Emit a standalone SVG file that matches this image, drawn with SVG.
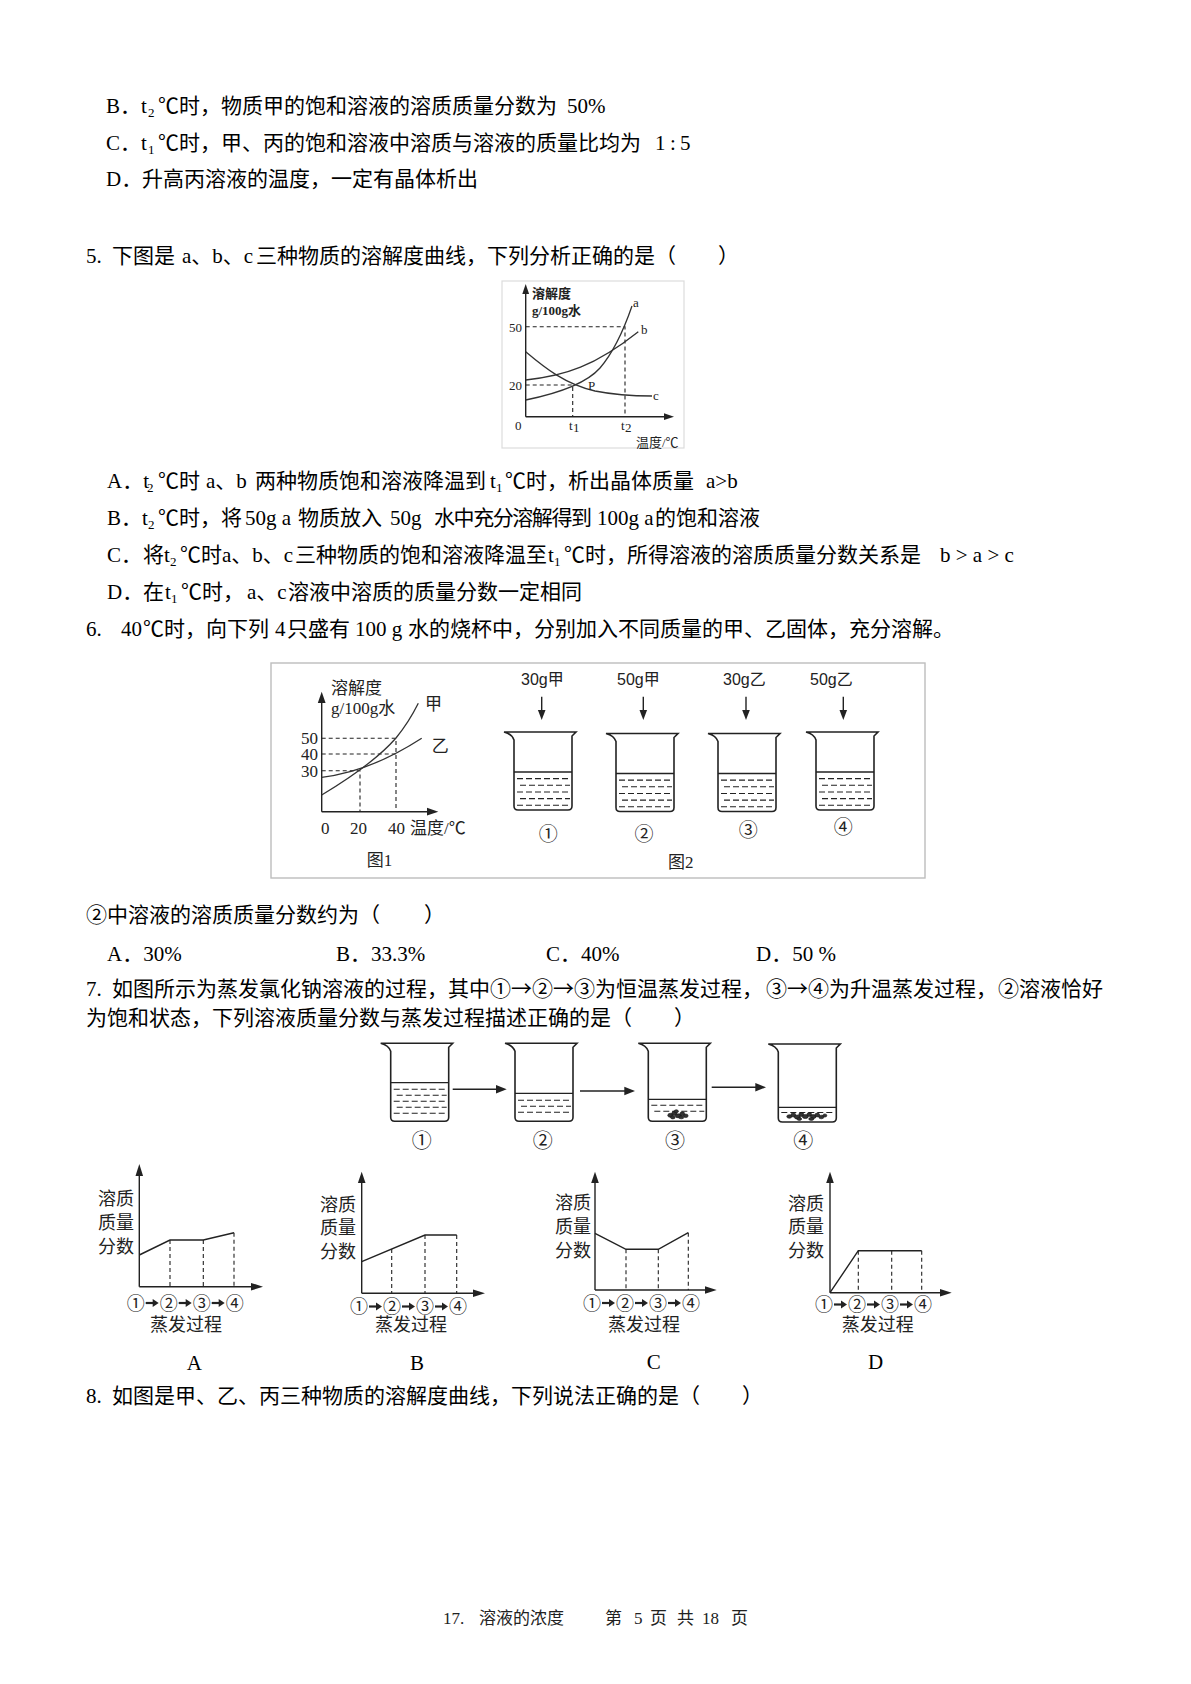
<svg xmlns="http://www.w3.org/2000/svg" xmlns:xlink="http://www.w3.org/1999/xlink" width="1191" height="1684" viewBox="0 0 1191 1684">
<style>
.t{font-family:'Liberation Serif','Noto Sans CJK SC',serif;font-size:21px;fill:#000}
.s{font-family:'Liberation Serif',serif;font-size:13px;fill:#000}
.cj{font-family:'Noto Sans CJK SC',sans-serif}
.ft{font-family:'Liberation Serif','Noto Sans CJK SC',serif;font-size:17px;fill:#222}
.ax{stroke:#222;stroke-width:1.4;fill:none}
.dash{stroke:#222;stroke-width:1.1;stroke-dasharray:4 3;fill:none}
.crv{stroke:#333;stroke-width:1.3;fill:none}
.ah{fill:#222}
.g5{font-family:'Liberation Serif','Noto Sans CJK SC',serif;font-size:13px;fill:#222}
.g6{font-family:'Liberation Serif','Noto Sans CJK SC',serif;font-size:17px;fill:#222}
.sn{font-family:'Liberation Sans','Noto Sans CJK SC',sans-serif;fill:#222}
.lab{font-family:'Noto Sans CJK SC',sans-serif;font-size:18px;fill:#222}
.liq{stroke:#222;stroke-width:1.3}
.lqd{stroke:#222;stroke-width:1.1;stroke-dasharray:6 3}
.frame{fill:none;stroke:#bdbdbd;stroke-width:1.4}
</style>
<defs>
<path id="bk" d="M10,74 L10,8 Q8,2 0,0 L72,0 L68,4 L68,74 Q68,78 64,78 L14,78 Q10,78 10,74 Z" fill="none" stroke="#222" stroke-width="1.6"/>
<g id="seq">
<text x="0" y="0" class="cj" font-size="18" fill="#222">①</text>
<line x1="19" y1="-6.5" x2="27" y2="-6.5" stroke="#222" stroke-width="2.2"/>
<polygon points="32,-6.5 26,-10.5 26,-2.5" class="ah"/>
<text x="33" y="0" class="cj" font-size="18" fill="#222">②</text>
<line x1="52" y1="-6.5" x2="60" y2="-6.5" stroke="#222" stroke-width="2.2"/>
<polygon points="65,-6.5 59,-10.5 59,-2.5" class="ah"/>
<text x="66" y="0" class="cj" font-size="18" fill="#222">③</text>
<line x1="85" y1="-6.5" x2="93" y2="-6.5" stroke="#222" stroke-width="2.2"/>
<polygon points="98,-6.5 92,-10.5 92,-2.5" class="ah"/>
<text x="99" y="0" class="cj" font-size="18" fill="#222">④</text>
</g>
</defs>
<rect width="1191" height="1684" fill="#fff"/>

<g id="text-top">
<text class="t" y="113"><tspan x="106">B．t</tspan><tspan x="158">℃时，物质甲的饱和溶液的溶质质量分数为</tspan><tspan x="567">50%</tspan></text>
<text class="s" x="148" y="117">2</text>
<text class="t" y="150"><tspan x="106">C．t</tspan><tspan x="158">℃时，甲、丙的饱和溶液中溶质与溶液的质量比均为</tspan><tspan x="655">1</tspan><tspan x="670">:</tspan><tspan x="680">5</tspan></text>
<text class="s" x="148" y="154">1</text>
<text class="t" y="186"><tspan x="106">D．</tspan><tspan x="142">升高丙溶液的温度，一定有晶体析出</tspan></text>
<text class="t" y="263"><tspan x="86">5.</tspan><tspan x="112">下图是</tspan><tspan x="182">a、b、c</tspan><tspan x="256">三种物质的溶解度曲线，下列分析正确的是（</tspan><tspan x="718">）</tspan></text>
</g>

<g id="fig5">
<rect x="502" y="281" width="182" height="167" fill="none" stroke="#dcdcdc" stroke-width="1.2"/>
<line x1="525.7" y1="416.7" x2="525.7" y2="292" class="ax"/>
<polygon points="525.7,284 522.3,294 529.1,294" class="ah"/>
<line x1="525.7" y1="416.7" x2="665" y2="416.7" class="ax"/>
<polygon points="674,416.7 664,413.3 664,420.1" class="ah"/>
<path d="M525.7,326.7 H625 V416.7" class="dash"/>
<path d="M525.7,385 H572.7 V416.7" class="dash"/>
<path d="M525.7,400 C555,394 585,385 600,368 C612,354 622,335 632,306" class="crv"/>
<path d="M525.7,380 C565,376 595,366 638.3,331.7" class="crv"/>
<path d="M525.7,351.7 C545,368 565,384 595,391 C615,395 635,396 652,396" class="crv"/>
<text class="g5" x="532" y="298" font-size="16" font-weight="700">溶解度</text>
<text class="g5" x="532" y="315" font-size="15" font-weight="700">g/100g水</text>
<text class="g5" x="509" y="331.5" font-size="14">50</text>
<text class="g5" x="509" y="390" font-size="14">20</text>
<text class="g5" x="515" y="430" font-size="14">0</text>
<text class="g5" x="569" y="430" font-size="14">t</text>
<text class="g5" x="573" y="432" font-size="9">1</text>
<text class="g5" x="621" y="430" font-size="14">t</text>
<text class="g5" x="625" y="432" font-size="9">2</text>
<text class="g5" x="636" y="447" font-size="15">温度/℃</text>
<text class="g5" x="633" y="307" font-size="15">a</text>
<text class="g5" x="641" y="334" font-size="15">b</text>
<text class="g5" x="653" y="400" font-size="15">c</text>
<text class="g5" x="588" y="390" font-size="14">P</text>
</g>

<g id="text-q5">
<text class="t" y="488"><tspan x="107">A．t</tspan><tspan x="158">℃时</tspan><tspan x="206">a、b</tspan><tspan x="255">两种物质饱和溶液降温到</tspan><tspan x="490">t</tspan><tspan x="505">℃时，析出晶体质量</tspan><tspan x="706">a&gt;b</tspan></text>
<text class="s" x="147" y="492">2</text>
<text class="s" x="496" y="492">1</text>
<text class="t" y="525"><tspan x="107">B．t</tspan><tspan x="158">℃时，将</tspan><tspan x="245">50g a</tspan><tspan x="298">物质放入</tspan><tspan x="390">50g</tspan></text>
<text class="t" y="525" x="434" textLength="158">水中充分溶解得到</text>
<text class="t" y="525"><tspan x="597">100g a</tspan><tspan x="655">的饱和溶液</tspan></text>
<text class="s" x="148" y="529">2</text>
<text class="t" y="562"><tspan x="107">C．</tspan><tspan x="143">将</tspan><tspan x="164">t</tspan><tspan x="180">℃时</tspan><tspan x="222">a、b、c</tspan><tspan x="295">三种物质的饱和溶液降温至</tspan><tspan x="548">t</tspan><tspan x="564">℃时，所得溶液的溶质质量分数关系是</tspan><tspan x="940">b &gt; a &gt; c</tspan></text>
<text class="s" x="170" y="566">2</text>
<text class="s" x="554" y="566">1</text>
<text class="t" y="599"><tspan x="107">D．</tspan><tspan x="143">在</tspan><tspan x="165">t</tspan><tspan x="181">℃时，</tspan><tspan x="247">a、c</tspan><tspan x="288">溶液中溶质的质量分数一定相同</tspan></text>
<text class="s" x="171" y="603">1</text>
<text class="t" y="636"><tspan x="86">6.</tspan><tspan x="121">40</tspan><tspan x="143">℃时，向下列</tspan><tspan x="275">4</tspan><tspan x="287">只盛有</tspan><tspan x="355">100 g</tspan><tspan x="408">水的烧杯中，分别加入不同质量的甲、乙固体，充分溶解。</tspan></text>
</g>

<g id="fig6">
<rect x="271" y="663" width="654" height="215" class="frame"/>
<g id="fig6-graph">
<line x1="321.7" y1="811.7" x2="321.7" y2="701" class="ax"/>
<polygon points="321.7,691.7 317.8,703 325.6,703" class="ah"/>
<line x1="321.7" y1="811.7" x2="428" y2="811.7" class="ax"/>
<polygon points="438.3,811.7 427,807.8 427,815.6" class="ah"/>
<path d="M321.7,738.3 H396 V811.7" class="dash"/>
<path d="M321.7,754 H396" class="dash"/>
<path d="M321.7,770.7 H360 V811.7" class="dash"/>
<path d="M321.7,795 C345,781 375,762 396,738 C405,727 412,716 418.3,703.3" class="crv"/>
<path d="M321.7,777.3 C350,774 385,762 421.7,738.3" class="crv"/>
<text class="g6" x="331" y="694" font-size="17.5">溶解度</text>
<text class="g6" x="331" y="714" font-size="17">g/100g水</text>
<text class="g6" x="425" y="709.5" font-size="18">甲</text>
<text class="g6" x="431.7" y="751.5" font-size="18">乙</text>
<text class="g6" x="301" y="744.3" font-size="18">50</text>
<text class="g6" x="301" y="760" font-size="18">40</text>
<text class="g6" x="301" y="776.5" font-size="18">30</text>
<text class="g6" x="321" y="834.3" font-size="18">0</text>
<text class="g6" x="350" y="834.3" font-size="18">20</text>
<text class="g6" x="388" y="834.3" font-size="18">40</text>
<text class="g6" x="410" y="834.3" font-size="18">温度/℃</text>
<text class="g6" x="366.7" y="866">图1</text>
</g>
<g id="fig6-beakers">
<g id="b6-1" transform="translate(504,732)">
<use xlink:href="#bk"/>
<line x1="10" y1="40" x2="68" y2="40" class="liq"/>
<line x1="13" y1="46.6" x2="66" y2="46.6" class="lqd"/>
<line x1="16" y1="53.3" x2="66" y2="53.3" class="lqd"/>
<line x1="13" y1="60" x2="66" y2="60" class="lqd"/>
<line x1="16" y1="66.6" x2="66" y2="66.6" class="lqd"/>
<line x1="13" y1="73.3" x2="66" y2="73.3" class="lqd"/>
</g>
<g id="b6-2" transform="translate(606,733.5)">
<use xlink:href="#bk"/>
<line x1="10" y1="40" x2="68" y2="40" class="liq"/>
<line x1="13" y1="46.6" x2="66" y2="46.6" class="lqd"/>
<line x1="16" y1="53.3" x2="66" y2="53.3" class="lqd"/>
<line x1="13" y1="60" x2="66" y2="60" class="lqd"/>
<line x1="16" y1="66.6" x2="66" y2="66.6" class="lqd"/>
<line x1="13" y1="73.3" x2="66" y2="73.3" class="lqd"/>
</g>
<g id="b6-3" transform="translate(708,733.5)">
<use xlink:href="#bk"/>
<line x1="10" y1="40" x2="68" y2="40" class="liq"/>
<line x1="13" y1="46.6" x2="66" y2="46.6" class="lqd"/>
<line x1="16" y1="53.3" x2="66" y2="53.3" class="lqd"/>
<line x1="13" y1="60" x2="66" y2="60" class="lqd"/>
<line x1="16" y1="66.6" x2="66" y2="66.6" class="lqd"/>
<line x1="13" y1="73.3" x2="66" y2="73.3" class="lqd"/>
</g>
<g id="b6-4" transform="translate(806,732)">
<use xlink:href="#bk"/>
<line x1="10" y1="40" x2="68" y2="40" class="liq"/>
<line x1="13" y1="46.6" x2="66" y2="46.6" class="lqd"/>
<line x1="16" y1="53.3" x2="66" y2="53.3" class="lqd"/>
<line x1="13" y1="60" x2="66" y2="60" class="lqd"/>
<line x1="16" y1="66.6" x2="66" y2="66.6" class="lqd"/>
<line x1="13" y1="73.3" x2="66" y2="73.3" class="lqd"/>
</g>
</g>
<g id="fig6-arrows">
<line x1="541.7" y1="696.7" x2="541.7" y2="712" class="ax"/>
<polygon points="541.7,720 537.9,710 545.5,710" class="ah"/>
<line x1="643.3" y1="696.7" x2="643.3" y2="712" class="ax"/>
<polygon points="643.3,720 639.5,710 647.1,710" class="ah"/>
<line x1="746" y1="696.7" x2="746" y2="712" class="ax"/>
<polygon points="746,720 742.2,710 749.8,710" class="ah"/>
<line x1="843.3" y1="696.7" x2="843.3" y2="712" class="ax"/>
<polygon points="843.3,720 839.5,710 847.1,710" class="ah"/>
</g>
<g id="fig6-labels">
<text class="sn" font-size="16" x="521" y="684.5">30g甲</text>
<text class="sn" font-size="16" x="617" y="684.5">50g甲</text>
<text class="sn" font-size="16" x="723" y="684.5">30g乙</text>
<text class="sn" font-size="16" x="810" y="684.5">50g乙</text>
<text class="cj" font-size="19" fill="#222" x="538.8" y="840.5">①</text>
<text class="cj" font-size="19" fill="#222" x="634.5" y="840.5">②</text>
<text class="cj" font-size="19" fill="#222" x="738.8" y="837">③</text>
<text class="cj" font-size="19" fill="#222" x="833.8" y="833.5">④</text>
<text class="g6" x="668" y="868">图2</text>
</g>
</g>

<g id="text-q6q7">
<text class="t" y="922"><tspan x="86">②中溶液的溶质质量分数约为（</tspan><tspan x="424">）</tspan></text>
<text class="t" y="961"><tspan x="107">A．30%</tspan><tspan x="336">B．33.3%</tspan><tspan x="546">C．40%</tspan><tspan x="756">D．50 %</tspan></text>
<text class="t" y="996"><tspan x="86">7.</tspan><tspan x="112">如图所示为蒸发氯化钠溶液的过程，其中</tspan><tspan x="490" class="cj">①→②→③</tspan><tspan>为恒温蒸发过程，</tspan><tspan x="766" class="cj">③→④</tspan><tspan>为升温蒸发过程，</tspan><tspan x="998">②溶液恰好</tspan></text>
<text class="t" y="1025"><tspan x="86">为饱和状态，下列溶液质量分数与蒸发过程描述正确的是（</tspan><tspan x="674">）</tspan></text>
</g>

<g id="fig7-beakers">
<g id="b7-1" transform="translate(380.7,1043.3)">
<use xlink:href="#bk"/>
<line x1="10" y1="39.4" x2="68" y2="39.4" class="liq"/>
<line x1="13" y1="46" x2="66" y2="46" class="lqd"/>
<line x1="16" y1="52" x2="66" y2="52" class="lqd"/>
<line x1="13" y1="58" x2="66" y2="58" class="lqd"/>
<line x1="16" y1="64" x2="66" y2="64" class="lqd"/>
<line x1="13" y1="70" x2="66" y2="70" class="lqd"/>
</g>
<g id="b7-2" transform="translate(505,1043.3)">
<use xlink:href="#bk"/>
<line x1="10" y1="50" x2="68" y2="50" class="liq"/>
<line x1="13" y1="57" x2="66" y2="57" class="lqd"/>
<line x1="16" y1="63" x2="66" y2="63" class="lqd"/>
<line x1="13" y1="69" x2="66" y2="69" class="lqd"/>
</g>
<g id="b7-3" transform="translate(638.3,1043.3)">
<use xlink:href="#bk"/>
<line x1="10" y1="56" x2="68" y2="56" class="liq"/>
<line x1="13" y1="62" x2="66" y2="62" class="lqd"/>
<line x1="16" y1="68" x2="66" y2="68" class="lqd"/>
<g fill="#333" stroke="#111" stroke-width="0.6">
<ellipse cx="32" cy="72" rx="2.5" ry="2"/>
<ellipse cx="36" cy="70" rx="2.5" ry="2.2"/>
<ellipse cx="40" cy="72.5" rx="3" ry="2"/>
<ellipse cx="44" cy="70.5" rx="2.4" ry="2"/>
<ellipse cx="47.5" cy="72.5" rx="2.3" ry="1.8"/>
<ellipse cx="38" cy="68" rx="2" ry="1.6"/>
<ellipse cx="34.5" cy="74" rx="2.4" ry="1.6"/>
<ellipse cx="43" cy="74" rx="2.6" ry="1.5"/>
</g>
</g>
<g id="b7-4" transform="translate(768.3,1044)">
<use xlink:href="#bk"/>
<line x1="10" y1="63.3" x2="68" y2="63.3" class="liq"/>
<line x1="13" y1="68.5" x2="66" y2="68.5" class="lqd"/>
<g fill="#333" stroke="#111" stroke-width="0.6">
<ellipse cx="21" cy="72.5" rx="2.5" ry="1.8"/>
<ellipse cx="25" cy="71" rx="2.5" ry="2"/>
<ellipse cx="29" cy="73" rx="3" ry="2"/>
<ellipse cx="33" cy="70.5" rx="2.5" ry="2"/>
<ellipse cx="37" cy="72.5" rx="3" ry="2"/>
<ellipse cx="41" cy="70.5" rx="2.4" ry="1.9"/>
<ellipse cx="45" cy="72.5" rx="2.8" ry="2"/>
<ellipse cx="49" cy="71" rx="2.4" ry="1.9"/>
<ellipse cx="53" cy="73" rx="2.6" ry="1.8"/>
<ellipse cx="56.5" cy="71.5" rx="2" ry="1.6"/>
<ellipse cx="31" cy="75" rx="2.4" ry="1.4"/>
<ellipse cx="43" cy="75" rx="2.6" ry="1.4"/>
</g>
</g>
</g>

<g id="connectors">
<line x1="452.7" y1="1089.3" x2="497" y2="1089.3" class="ax"/>
<polygon points="506.7,1089.3 496,1085 496,1093.6" class="ah"/>
<line x1="580" y1="1091" x2="625" y2="1091" class="ax"/>
<polygon points="635,1091 624.3,1086.7 624.3,1095.3" class="ah"/>
<line x1="711.7" y1="1087.3" x2="756" y2="1087.3" class="ax"/>
<polygon points="766,1087.3 755.3,1083 755.3,1091.6" class="ah"/>
</g>

<g id="fig7-labels">
<text class="cj" font-size="20" fill="#222" x="411.7" y="1147.5">①</text>
<text class="cj" font-size="20" fill="#222" x="532.7" y="1147.5">②</text>
<text class="cj" font-size="20" fill="#222" x="665" y="1147.5">③</text>
<text class="cj" font-size="20" fill="#222" x="793.3" y="1147.5">④</text>
</g>

<g id="graphA">
<line x1="139.3" y1="1286.7" x2="139.3" y2="1175" class="ax"/>
<polygon points="139.3,1164 135.5,1176 143.1,1176" class="ah"/>
<line x1="139.3" y1="1286.7" x2="252" y2="1286.7" class="ax"/>
<polygon points="263,1286.7 251,1282.9 251,1290.5" class="ah"/>
<polyline points="139.3,1255 170,1240 203.3,1240 234,1232.7" class="ax"/>
<path d="M170,1240 V1286.7 M203.3,1240 V1286.7 M234,1232.7 V1286.7" class="dash"/>
<text class="lab" x="98" y="1204.5">溶质</text>
<text class="lab" x="98" y="1229">质量</text>
<text class="lab" x="98" y="1253">分数</text>
<use xlink:href="#seq" x="126.7" y="1309.5"/>
<text class="lab" font-size="17.5" x="150" y="1331">蒸发过程</text>
<text class="t" font-size="20" x="186.7" y="1370">A</text>
</g>
<g id="graphB">
<line x1="361.7" y1="1293.3" x2="361.7" y2="1182" class="ax"/>
<polygon points="361.7,1171.7 357.9,1183 365.5,1183" class="ah"/>
<line x1="361.7" y1="1293.3" x2="474" y2="1293.3" class="ax"/>
<polygon points="485,1293.3 473,1289.5 473,1297.1" class="ah"/>
<polyline points="361.7,1261.7 425,1235 456.7,1235" class="ax"/>
<path d="M391.7,1249 V1293.3 M425,1235 V1293.3 M456.7,1235 V1293.3" class="dash"/>
<text class="lab" x="320" y="1211">溶质</text>
<text class="lab" x="320" y="1234">质量</text>
<text class="lab" x="320" y="1257.5">分数</text>
<use xlink:href="#seq" x="350" y="1313"/>
<text class="lab" font-size="17.5" x="375" y="1331">蒸发过程</text>
<text class="t" font-size="20" x="410" y="1370">B</text>
</g>
<g id="graphC">
<line x1="595" y1="1290" x2="595" y2="1182" class="ax"/>
<polygon points="595,1171.7 591.2,1183 598.8,1183" class="ah"/>
<line x1="595" y1="1290" x2="706" y2="1290" class="ax"/>
<polygon points="716.7,1290 705,1286.2 705,1293.8" class="ah"/>
<polyline points="595,1233.3 626,1249.3 658.3,1249.3 688.3,1232.7" class="ax"/>
<path d="M626,1249.3 V1290 M658.3,1249.3 V1290 M688.3,1232.7 V1290" class="dash"/>
<text class="lab" x="555" y="1208.5">溶质</text>
<text class="lab" x="555" y="1233">质量</text>
<text class="lab" x="555" y="1256.5">分数</text>
<use xlink:href="#seq" x="583" y="1309.5"/>
<text class="lab" font-size="17.5" x="608" y="1331">蒸发过程</text>
<text class="t" font-size="20" x="646.7" y="1369">C</text>
</g>
<g id="graphD">
<line x1="830" y1="1292.7" x2="830" y2="1182" class="ax"/>
<polygon points="830,1171.7 826.2,1183 833.8,1183" class="ah"/>
<line x1="830" y1="1292.7" x2="941" y2="1292.7" class="ax"/>
<polygon points="951.7,1292.7 940,1288.9 940,1296.5" class="ah"/>
<polyline points="830,1292.7 858.3,1250.7 921.7,1250.7" class="ax"/>
<path d="M858.3,1250.7 V1292.7 M891.7,1250.7 V1292.7 M921.7,1250.7 V1292.7" class="dash"/>
<text class="lab" x="788" y="1209.5">溶质</text>
<text class="lab" x="788" y="1233">质量</text>
<text class="lab" x="788" y="1256.5">分数</text>
<use xlink:href="#seq" x="815" y="1311"/>
<text class="lab" font-size="17.5" x="841.7" y="1331">蒸发过程</text>
<text class="t" font-size="20" x="868" y="1369">D</text>
</g>

<g id="text-q8">
<text class="t" y="1403"><tspan x="86">8.</tspan><tspan x="112">如图是甲、乙、丙三种物质的溶解度曲线，下列说法正确的是（</tspan><tspan x="742">）</tspan></text>
</g>

<g id="footer">
<text class="ft" y="1624"><tspan x="443">17.</tspan><tspan x="479">溶液的浓度</tspan><tspan x="605">第</tspan><tspan x="634">5</tspan><tspan x="650">页</tspan><tspan x="677">共</tspan><tspan x="702">18</tspan><tspan x="731">页</tspan></text>
</g>
</svg>
